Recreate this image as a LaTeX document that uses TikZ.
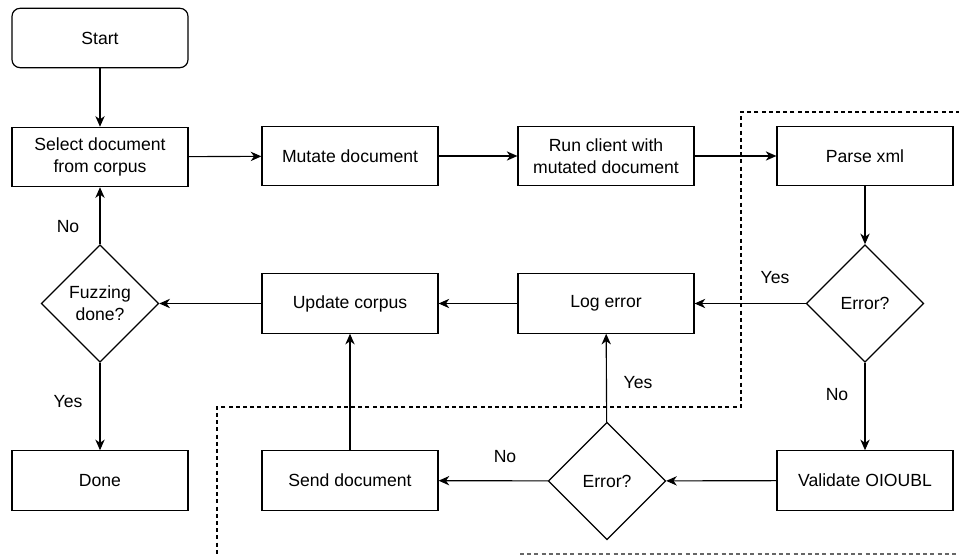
\documentclass[tikz,border=0pt]{standalone}
\usepackage{fontspec}
\setmainfont{Liberation Sans}
\usetikzlibrary{shapes.geometric,arrows.meta}
\begin{document}
\begin{tikzpicture}[x=0.75pt,y=-0.75pt,
  every node/.style={font=\fontsize{13.2}{16.5}\selectfont},
  proc/.style={draw,line width=0.9pt,minimum width=132pt,minimum height=44.5pt,inner sep=2pt,align=center},
  startbox/.style={proc,rounded corners=6pt},
  decision/.style={draw,line width=0.9pt,diamond,aspect=1,minimum width=88pt,minimum height=88pt,inner sep=0pt,align=center},
  flow/.style={line width=0.85pt,-{Stealth[length=8pt,width=7pt,inset=2.5pt]}},
  region/.style={line width=0.8pt,dash pattern=on 3pt off 2.4pt},
  lbl/.style={inner sep=0pt}]
\useasboundingbox (0,0) rectangle (959,555);

% nodes
\node[startbox] (start) at (100,38) {Start};
\node[proc] (select) at (100,157) {Select document\\from corpus};
\node[proc] (mutate) at (350,156) {Mutate document};
\node[proc] (run) at (606,156) {Run client with\\mutated document};
\node[proc] (parse) at (865,156) {Parse xml};
\node[decision] (err1) at (865,303.5) {Error?};
\node[proc] (log) at (606,303.5) {Log error};
\node[proc] (update) at (350,303.5) {Update corpus};
\node[decision] (fuzz) at (100,303.5) {Fuzzing\\done?};
\node[proc] (done) at (100,480.5) {Done};
\node[proc] (send) at (350,480.5) {Send document};
\node[decision] (err2) at (607,481) {Error?};
\node[proc] (validate) at (865,480.5) {Validate OIOUBL};

% dashed boundary
\coordinate (r1) at (960,112);
\coordinate (r2) at (741,112);
\coordinate (r3) at (741,407);
\coordinate (r4) at (217,407);
\coordinate (r5) at (217,556);
\coordinate (b1) at (520,554);
\coordinate (b2) at (960,554);
\draw[region] (r1) -- (r2) -- (r3) -- (r4) -- (r5);
\draw[region,draw=black!60] (b1) -- (b2);

% connectors
\draw[flow] (start) -- (select);
\draw[flow] (select) -- (mutate);
\draw[flow] (mutate) -- (run);
\draw[flow] (run) -- (parse);
\draw[flow] (parse) -- (err1);
\draw[flow] (err1) -- (log);
\draw[flow] (err1) -- (validate);
\draw[flow] (validate) -- (err2);
\draw[flow] (err2) -- (send);
\draw[flow] (err2) -- (log);
\draw[flow] (send) -- (update);
\draw[flow] (log) -- (update);
\draw[flow] (update) -- (fuzz);
\draw[flow] (fuzz) -- (select);
\draw[flow] (fuzz) -- (done);

% branch labels
\node[lbl] (l1) at (68,227) {No};
\node[lbl] (l2) at (68,402) {Yes};
\node[lbl] (l3) at (775,278) {Yes};
\node[lbl] (l4) at (837,395) {No};
\node[lbl] (l5) at (638,383) {Yes};
\node[lbl] (l6) at (505,457) {No};
\end{tikzpicture}
\end{document}
